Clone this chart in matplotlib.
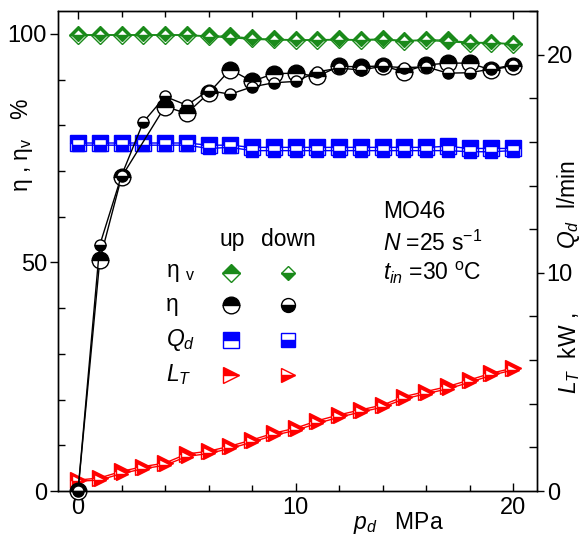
import matplotlib
matplotlib.use("Agg")
import matplotlib.pyplot as plt
from matplotlib.ticker import MultipleLocator

plt.rcParams['font.family'] = ['Liberation Sans', 'DejaVu Sans']
plt.rcParams['mathtext.fontset'] = 'custom'
plt.rcParams['mathtext.rm'] = 'Liberation Sans'
plt.rcParams['mathtext.it'] = 'Liberation Sans:italic'

# ---------------- data ----------------
x_all = [0, 1, 2, 3, 4, 5, 6, 7, 8, 9, 10, 11, 12, 13, 14, 15, 16, 17, 18, 19, 20]
x_eta_up = [0, 1, 2, 4, 5, 6, 7, 8, 9, 10, 11, 12, 13, 14, 15, 16, 17, 18, 19, 20]

eta_up = [0, 50.5, 68.7, 84.1, 82.6, 87.0, 92.2, 89.6, 91.3, 91.4, 90.7, 92.9, 92.8, 93.0,
          91.7, 93.2, 93.6, 93.6, 92.1, 93.0]
eta_down = [0, 53.8, 69.0, 80.7, 86.3, 84.4, 87.6, 86.8, 88.4, 89.3, 89.6, 91.7, 92.5, 92.1,
            92.9, 92.6, 92.8, 91.4, 91.5, 92.3, 93.2]

etav_up = [99.8, 99.8, 99.8, 99.8, 99.8, 99.8, 99.5, 99.5, 99.0, 98.8, 98.7, 98.7, 98.8, 98.7,
           98.9, 98.5, 98.7, 98.6, 98.1, 98.1, 97.8]
etav_down = [99.7, 99.7, 99.7, 99.7, 99.7, 99.7, 99.4, 99.2, 98.8, 98.7, 98.6, 98.6, 98.7, 98.6,
             98.7, 98.4, 98.6, 98.3, 98.0, 98.0, 97.7]

Qd_up = [15.95, 15.95, 15.95, 15.95, 15.95, 15.95, 15.85, 15.85, 15.75, 15.75, 15.75, 15.75,
         15.75, 15.75, 15.75, 15.75, 15.75, 15.8, 15.7, 15.7, 15.7]
Qd_down = [15.85, 15.85, 15.85, 15.85, 15.85, 15.85, 15.7, 15.75, 15.6, 15.6, 15.6, 15.6,
           15.6, 15.6, 15.6, 15.6, 15.6, 15.6, 15.55, 15.55, 15.6]

LT_up = [0.5, 0.6, 0.9, 1.12, 1.28, 1.7, 1.82, 2.06, 2.34, 2.65, 2.88, 3.22, 3.49, 3.72,
         3.94, 4.33, 4.56, 4.79, 5.09, 5.40, 5.63]
LT_down = [0.45, 0.5, 0.8, 1.02, 1.18, 1.58, 1.72, 1.95, 2.24, 2.55, 2.78, 3.1, 3.38, 3.62,
           3.84, 4.22, 4.46, 4.68, 4.98, 5.30, 5.55]

x_ticks = [0, 10, 20]
left_ticks = [0, 50, 100]
right_ticks = [0, 10, 20]

green = '#1a8a1a'
blue = '#0000ff'
red = '#ff0000'
black = '#000000'

# ---------------- figure ----------------
fig = plt.figure(figsize=(5.83, 5.40), dpi=100)
ax = fig.add_axes([58/583, 49/540, (537-58)/583, (491-11)/540])
ax2 = ax.twinx()

ax.set_xlim(-0.92, 21.1)
ax.set_ylim(0, 105)
ax2.set_ylim(0, 22)

ax.set_zorder(2)
ax2.set_zorder(1)
ax.patch.set_visible(False)

FS = 16.5
TFS = 17
up_kw = dict(fillstyle='top', markerfacecoloralt='white', markeredgewidth=1.0, linewidth=1.0, clip_on=False)
dn_kw = dict(fillstyle='bottom', markerfacecoloralt='white', markeredgewidth=1.0, linewidth=1.0, clip_on=False)

# right axis series
ax2.plot(x_all, Qd_up, marker='s', ms=12, color=blue, markerfacecolor=blue, markeredgecolor=blue, **up_kw)
ax2.plot(x_all, Qd_down, marker='s', ms=9, color=blue, markerfacecolor=blue, markeredgecolor=blue, **dn_kw)
ax2.plot(x_all, LT_up, marker='>', ms=12, color=red, markerfacecolor=red, markeredgecolor=red, **up_kw)
ax2.plot(x_all, LT_down, marker='>', ms=9, color=red, markerfacecolor=red, markeredgecolor=red, **dn_kw)

# left axis series
ax.plot(x_all, etav_up, marker='D', ms=8.7, color=green, markerfacecolor=green, markeredgecolor=green, **up_kw)
ax.plot(x_all, etav_down, marker='D', ms=6.5, color=green, markerfacecolor=green, markeredgecolor=green, **dn_kw)
ax.plot(x_eta_up, eta_up, marker='o', ms=12, color=black, markerfacecolor=black, markeredgecolor=black, **up_kw)
ax.plot(x_all, eta_down, marker='o', ms=8, color=black, markerfacecolor=black, markeredgecolor=black, **dn_kw)

# ---------------- axes styling ----------------
for a in (ax, ax2):
    for s in a.spines.values():
        s.set_linewidth(1.0)

ax.set_xticks(x_ticks)
ax.xaxis.set_minor_locator(MultipleLocator(2))
ax.set_yticks(left_ticks)
ax.yaxis.set_minor_locator(MultipleLocator(10))
ax.tick_params(axis='x', which='major', direction='in', length=6, width=1, labelsize=TFS, pad=4,
               top=True)
ax.tick_params(axis='x', which='minor', direction='in', length=4, width=1, top=True)
ax.tick_params(axis='y', which='major', direction='out', length=6, width=1, labelsize=TFS, pad=2)
ax.tick_params(axis='y', which='minor', direction='in', length=5, width=1)

ax2.set_yticks(right_ticks)
ax2.yaxis.set_minor_locator(MultipleLocator(2))
ax2.tick_params(axis='y', which='major', direction='out', length=5, width=1, labelsize=TFS, pad=2)
ax2.tick_params(axis='y', which='minor', direction='in', length=6, width=1)

# ---------------- labels ----------------
ax.text(-0.075, 0.72, 'η , η$_\\mathrm{v}$   %', transform=ax.transAxes, rotation=90,
        ha='center', va='center', fontsize=FS)
# right-axis label in two parts (L_T below the "10" tick, Q_d above it)
rx = (569 - 58) / 479
ax.text(rx, (491 - 394) / 480, '$L_T$  kW ,', transform=ax.transAxes, rotation=90,
        ha='center', va='bottom', fontsize=FS)
ax.text(rx, (491 - 249) / 480, '$Q_d$  l/min', transform=ax.transAxes, rotation=90,
        ha='center', va='bottom', fontsize=FS)
ax.text(0.71, -0.067, '$p_d$   MPa', transform=ax.transAxes, ha='center', va='center',
        fontsize=FS)

# annotations
def px2data(px, py):
    return (px - 78) / 21.75, (491 - py) / 4.571

tx, ty = px2data(383, 212)
ax.text(tx, ty, 'MO46', fontsize=FS, ha='left', va='center')
tx, ty = px2data(383, 243)
ax.text(tx, ty, '$N$ =25 s$^{-1}$', fontsize=FS, ha='left', va='center')
tx, ty = px2data(383, 273)
ax.text(tx, ty, '$t_{in}$ =30 $^\\mathrm{o}$C', fontsize=FS, ha='left', va='center')

tx, ty = px2data(232, 240)
ax.text(tx, ty, 'up', fontsize=FS, ha='center', va='center')
tx, ty = px2data(288, 240)
ax.text(tx, ty, 'down', fontsize=FS, ha='center', va='center')

row_labels = ['η $_\\mathrm{v}$', 'η', '$Q_d$', '$L_T$']
row_py = [273, 305, 340, 375]
row_marker = ['D', 'o', 's', '>']
row_color = [green, black, blue, red]
row_ms_up = [9.2, 12, 12, 12]
row_ms_dn = [7.5, 10, 10, 9.5]
for lab, py, mk, col, mu, md in zip(row_labels, row_py, row_marker, row_color, row_ms_up, row_ms_dn):
    lx, ly = px2data(166, py)
    ax.text(lx, ly, lab, fontsize=FS, ha='left', va='center')
    ux, uy = px2data(231, py)
    ax.plot([ux], [uy], marker=mk, ms=mu, color=col, markerfacecolor=col,
            markeredgecolor=col, fillstyle='top', markerfacecoloralt='white', linestyle='none')
    dx, dy = px2data(288, py)
    ax.plot([dx], [dy], marker=mk, ms=md, color=col, markerfacecolor=col,
            markeredgecolor=col, fillstyle='bottom', markerfacecoloralt='white', linestyle='none')

fig.savefig('out.png', dpi=100)
